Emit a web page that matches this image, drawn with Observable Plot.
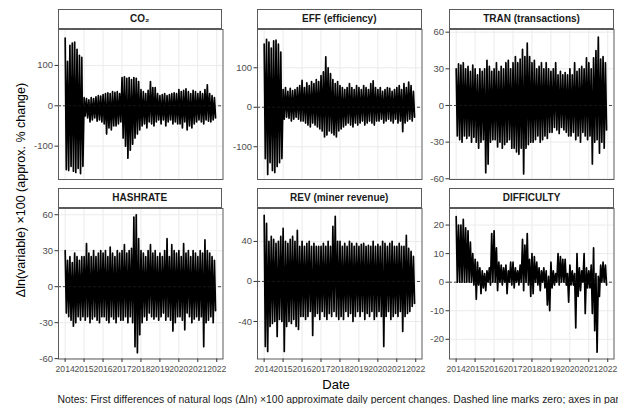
<!DOCTYPE html>
<html><head><meta charset="utf-8">
<script src="https://cdn.jsdelivr.net/npm/d3@7"></script>
<script src="https://cdn.jsdelivr.net/npm/@observablehq/plot@0.6"></script>
<style>
body{margin:0;background:#fff;overflow:hidden;font-family:"Liberation Sans",Arial,sans-serif;}
#root{position:relative;width:618px;height:404px;overflow:hidden;background:#fff;}
.strip{position:absolute;box-sizing:border-box;border:1px solid #5a5a5a;background:#fff;font-weight:bold;font-size:10px;color:#1a1a1a;text-align:center;display:flex;align-items:center;justify-content:center;}
.txt{position:absolute;white-space:nowrap;color:#000;}
</style></head><body><div id="root"></div><script>
// ---- data (8 readings per year, 2014-2021: upper and lower extremes) ----
const years = [2014, 2015, 2016, 2017, 2018, 2019, 2020, 2021, 2022];
const yearLabels = ["2014", "2015", "2016", "2017", "2018", "2019", "2020", "2021", "2022"];

const co2Hi = [168,110,150,155,158,140,125,120, 20,18,15,20,18,22,25,24, 28,30,32,30,35,33,35,30, 70,72,68,70,65,70,68,60, 40,35,30,38,60,45,45,30, 25,28,30,25,28,30,32,30, 40,35,38,42,35,30,38,35, 30,35,30,40,52,30,25,20];
const co2Lo = [-158,-160,-150,-162,-165,-155,-168,-150, -25,-30,-40,-35,-30,-38,-35,-40, -45,-70,-55,-60,-50,-50,-45,-40, -80,-100,-130,-110,-95,-80,-70,-60, -50,-45,-55,-40,-45,-50,-40,-35, -45,-35,-50,-40,-35,-45,-40,-45, -45,-55,-40,-60,-50,-55,-45,-40, -35,-40,-45,-35,-38,-40,-35,-30];

const effHi = [160,172,165,150,168,170,160,140, 45,50,40,48,42,45,50,55, 68,50,62,55,65,60,70,65, 80,90,128,100,85,70,60,65, 55,50,45,50,60,50,45,55, 50,45,55,50,45,60,67,50, 45,50,40,45,50,48,40,45, 50,55,45,60,50,64,55,40];
const effLo = [-130,-170,-140,-160,-165,-150,-140,-130, -30,-25,-28,-35,-30,-25,-30,-35, -35,-40,-45,-50,-40,-45,-50,-55, -60,-75,-70,-60,-65,-70,-75,-60, -55,-50,-45,-40,-45,-50,-40,-45, -40,-35,-45,-40,-35,-40,-45,-35, -35,-30,-40,-35,-30,-35,-40,-30, -40,-35,-62,-40,-35,-30,-35,-25];

const tranHi = [30,34,33,35,30,32,28,33, 30,25,30,28,30,37,32,28, 30,35,28,32,30,35,37,30, 35,40,35,38,46,40,51,40, 35,37,30,32,35,30,35,30, 28,30,35,25,28,25,27,25, 30,25,35,28,30,32,30,39, 35,30,39,45,56,38,40,35];
const tranLo = [-25,-28,-30,-25,-27,-25,-30,-26, -30,-35,-30,-28,-55,-48,-30,-28, -28,-34,-30,-35,-32,-30,-28,-35, -35,-38,-40,-35,-56,-35,-32,-30, -30,-28,-25,-30,-28,-25,-27,-22, -22,-18,-20,-23,-18,-20,-22,-25, -25,-22,-28,-25,-30,-22,-25,-28, -25,-48,-30,-28,-39,-30,-35,-20];

const hashHi = [30,22,25,20,28,25,22,25, 25,36,28,25,30,25,28,30, 28,30,25,33,28,25,30,28, 30,35,28,30,32,58,60,40, 30,28,25,30,35,28,30,25, 28,25,30,40,25,35,30,28, 30,25,36,28,30,25,30,28, 25,30,28,39,30,28,25,22];
const hashLo = [-22,-25,-28,-33,-30,-25,-28,-25, -28,-25,-30,-27,-25,-28,-30,-25, -25,-28,-30,-25,-27,-30,-25,-28, -28,-25,-30,-25,-30,-50,-55,-40, -30,-25,-28,-22,-25,-27,-25,-28, -25,-22,-28,-25,-28,-37,-30,-25, -25,-28,-36,-22,-25,-30,-27,-25, -28,-25,-50,-30,-28,-25,-30,-20];

const revHi = [66,58,40,45,42,38,40,45, 53,40,38,42,45,40,51,35, 40,35,38,40,35,38,35,35, 35,38,35,40,35,55,65,40, 40,35,38,35,40,38,35,38, 35,37,38,35,36,35,40,35, 37,35,40,38,35,38,40,35, 35,38,35,35,46,33,30,25];
const revLo = [-65,-70,-45,-42,-40,-55,-38,-40, -70,-45,-40,-42,-38,-45,-48,-35, -35,-38,-35,-30,-54,-35,-32,-38, -30,-35,-38,-32,-35,-30,-35,-38, -35,-38,-30,-35,-32,-40,-35,-30, -35,-30,-38,-32,-35,-30,-38,-35, -30,-35,-65,-35,-30,-38,-35,-32, -35,-30,-50,-35,-32,-30,-25,-22];

const diffHi = [23,20,20,22,19,18,14,10, 8,7,5,4,3,4,5,17, 18,12,7,6,5,6,4,7, 7,5,4,6,15,13,17,8, 10,9,7,5,4,5,4,2, 7,4,3,10,9,8,8,3, 6,4,3,10,5,4,10,5, 4,6,12,3,2,6,7,6];
const diffLo = [0,0,0,0,0,0,0,-1, -6,-1,-4,-2,-3,0,-1,0, 0,-3,0,-1,0,-4,0,-1, -2,0,-1,0,-3,0,-1,-5, -4,0,-1,-3,0,-2,-8,-10, -2,-1,0,-1,0,0,-1,-7, -1,-1,-16,-5,-3,0,-11,-2, -2,-11,-17,-24.5,-5,0,0,-1];

const titles = ["CO₂", "EFF (efficiency)", "TRAN (transactions)", "HASHRATE", "REV (miner revenue)", "DIFFICULTY"];
const ticksBig = [-100, 0, 100];
const ticks60 = [-60, -30, 0, 30, 60];
const ticks40 = [-40, 0, 40];
const ticks20 = [-20, -10, 0, 10, 20];

const yTitle = "Δln(variable) ×100 (approx. % change)";
const xTitle = "Date";
const note = "Notes: First differences of natural logs (Δln) ×100 approximate daily percent changes. Dashed line marks zero; axes in panels have free y scales.";

// ---- layout ----
const root = document.getElementById("root");
const xDomain = [2013.65, 2022.33];
const colLeft = [57.5, 257, 449.3];
const panelW = 164.5;
const rows = [{stripTop: 8.5, stripH: 20.5, top: 29, h: 150}, {stripTop: 187.5, stripH: 20, top: 207.5, h: 150.5}];

const panels = [
  {hi: co2Hi, lo: co2Lo, domain: [-182.6, 189], ticks: ticksBig, row: 0, col: 0},
  {hi: effHi, lo: effLo, domain: [-183, 197], ticks: ticksBig, row: 0, col: 1},
  {hi: tranHi, lo: tranLo, domain: [-60.6, 62.2], ticks: ticks60, row: 0, col: 2},
  {hi: hashHi, lo: hashLo, domain: [-60.3, 65.2], ticks: ticks60, row: 1, col: 0},
  {hi: revHi, lo: revLo, domain: [-77.5, 72.9], ticks: ticks40, row: 1, col: 1},
  {hi: diffHi, lo: diffLo, domain: [-26.9, 25.8], ticks: ticks20, row: 1, col: 2}
];

panels.forEach((p, i) => {
  const r = rows[p.row];
  const bottom = p.row === 1;
  const ml = 45;
  const mb = bottom ? 24 : 0;
  const pts = [];
  p.hi.forEach((h, k) => {
    pts.push({t: 2014 + (k + 0.02) / 8, v: h});
    pts.push({t: 2014 + (k + 0.5) / 8, v: p.lo[k]});
  });
  const marks = [
    Plot.ruleX(years, {stroke: "#ebebeb", strokeWidth: 1}),
    Plot.ruleY(p.ticks, {stroke: "#ebebeb", strokeWidth: 1}),
    Plot.line(pts, {x: "t", y: "v", stroke: "#000", strokeWidth: 1.7, strokeLinejoin: "round"}),
    Plot.ruleY([0], {stroke: "#1a1a1a", strokeWidth: 0.8, strokeDasharray: "3,2"}),
    Plot.frame({stroke: "#5a5a5a", strokeWidth: 1}),
    Plot.axisY({ticks: p.ticks, tickSize: 3.5, tickPadding: 2, tickFormat: d => String(d), label: null, stroke: "#333", fill: "#4d4d4d", fontSize: 9.5})
  ];
  if (bottom) marks.push(Plot.axisX({ticks: years, tickSize: 3.5, tickPadding: 3.5, tickFormat: d => yearLabels[years.indexOf(d)], label: null, stroke: "#333", fill: "#4d4d4d", fontSize: 8.6}));
  const svg = Plot.plot({
    width: panelW + ml, height: r.h + mb,
    marginLeft: ml, marginRight: 0, marginTop: 0, marginBottom: mb,
    x: {domain: xDomain, axis: null},
    y: {domain: p.domain, axis: null},
    style: {fontFamily: '"Liberation Sans", Arial, sans-serif', background: "transparent", overflow: "visible"},
    marks
  });
  svg.style.position = "absolute";
  svg.style.left = (colLeft[p.col] - ml) + "px";
  svg.style.top = r.top + "px";
  svg.style.maxWidth = "none";
  root.appendChild(svg);

  const s = document.createElement("div");
  s.className = "strip";
  s.textContent = titles[i];
  s.style.left = colLeft[p.col] + "px";
  s.style.top = r.stripTop + "px";
  s.style.width = panelW + "px";
  s.style.height = r.stripH + "px";
  root.appendChild(s);
});

function addText(str, css) {
  const d = document.createElement("div");
  d.className = "txt";
  d.textContent = str;
  Object.assign(d.style, css);
  root.appendChild(d);
  return d;
}
addText(yTitle, {left: "21px", top: "190px", fontSize: "12.5px", transform: "translate(-50%,-50%) rotate(-90deg)"});
addText(xTitle, {left: "336px", top: "384px", fontSize: "13px", transform: "translate(-50%,-50%)"});
addText(note, {left: "57.5px", top: "398.5px", fontSize: "10.4px", transform: "translate(0,-50%)", color: "#1a1a1a"});
</script></body></html>
